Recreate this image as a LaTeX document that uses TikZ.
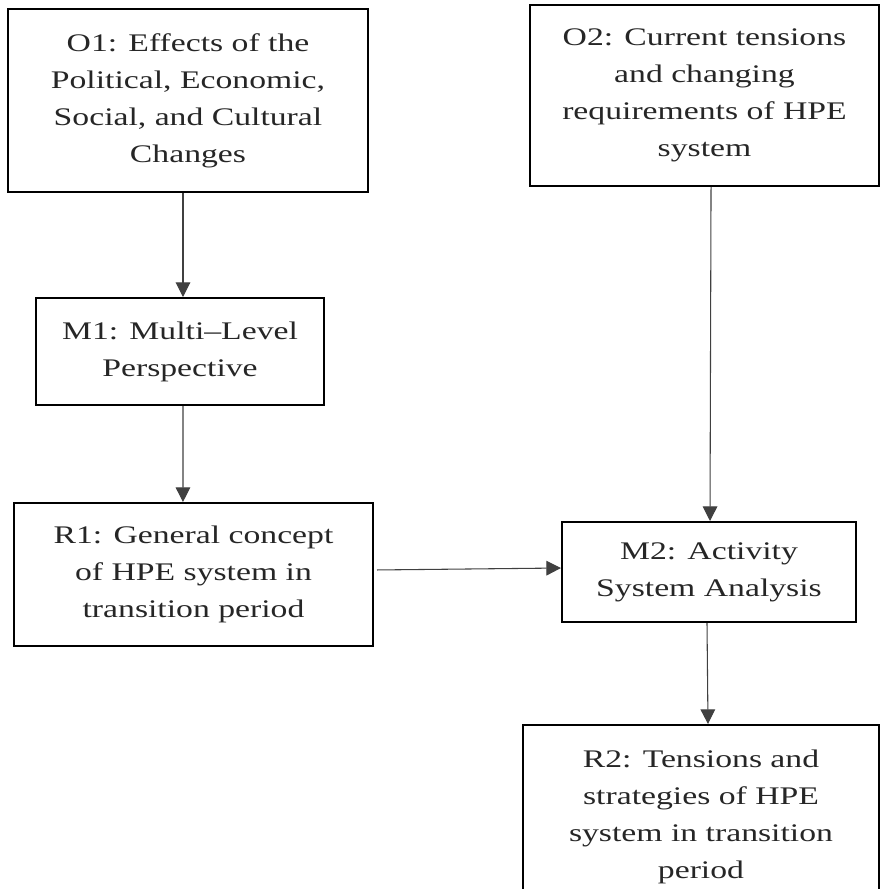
\documentclass[tikz,border=0pt]{standalone}
\usepackage{fontspec}
\setmainfont{Liberation Serif}[FakeStretch=1.33]
\usetikzlibrary{arrows.meta}
\begin{document}
\begin{tikzpicture}[x=0.75pt,y=-0.75pt,
  box/.style={draw=black,line width=1.5pt,rectangle,inner sep=0pt,align=center,
    text=black!85,font=\fontsize{19pt}{27.75pt}\selectfont},
  arr/.style={draw=black!75,line width=0.8pt,-{Triangle[length=11pt,width=11pt]}}]
\useasboundingbox (0,0) rectangle (880,889);

% boxes
\node[box,minimum width=270pt,minimum height=137.25pt] (O1) at (188,100.5)
  {O1: Effects of the\\Political, Economic,\\Social, and Cultural\\Changes};
\node[box,minimum width=261.75pt,minimum height=135.75pt] (O2) at (704.5,95.5)
  {O2: Current tensions\\and changing\\requirements of HPE\\system};
\node[box,minimum width=216pt,minimum height=80.25pt] (M1) at (180,351.5)
  {M1: Multi–Level\\Perspective};
\node[box,minimum width=269.25pt,minimum height=107.25pt] (R1) at (193.5,574.5)
  {R1: General concept\\of HPE system in\\transition period};
\node[box,minimum width=220.5pt,minimum height=75pt] (M2) at (709,572)
  {M2: Activity\\System Analysis};
\node[box,minimum width=267pt,minimum height=138pt] (R2) at (701,817)
  {R2: Tensions and\\strategies of HPE\\system in transition\\period};

% connectors
\draw[arr] ([xshift=-3.75pt]O1.south) -- ([xshift=2.25pt]M1.north);
\draw[arr] ([xshift=2.25pt]M1.south) -- ([xshift=-7.9pt]R1.north);
\draw[arr] ([xshift=4.9pt]O2.south) -- ([xshift=0.75pt]M2.north);
\draw[arr] ([xshift=2.25pt,yshift=3.4pt]R1.east) -- ([yshift=3pt]M2.west);
\draw[arr] ([xshift=-1.5pt]M2.south) -- ([xshift=5.25pt]R2.north);
\end{tikzpicture}
\end{document}
